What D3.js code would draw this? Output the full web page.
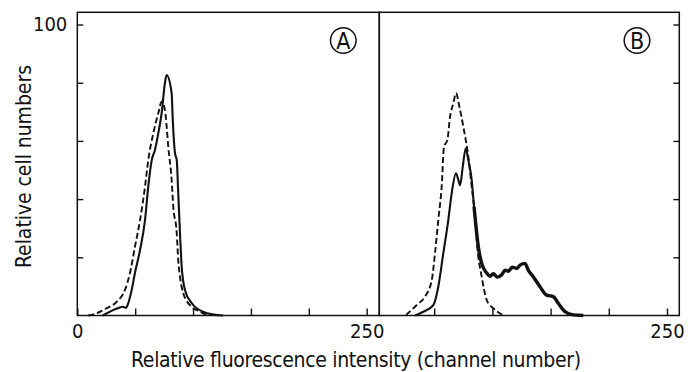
<!DOCTYPE html>
<html lang="en">
	<head>
		<meta charset="utf-8">
		<title>Fluorescence histograms</title>
		<script type="text/javascript" src="https://cdn.jsdelivr.net/npm/d3@7/dist/d3.min.js"></script>
		<style type="text/css">
			body { margin: 0; background: #fff; }
			text { font-family: "DejaVu Sans Condensed", "DejaVu Sans", sans-serif; font-stretch: condensed; fill: #111; }
		</style>
	</head>
	<body>
		<script type="text/javascript">

			//Width and height
			var w = 696;
			var h = 372;

			//Panel A, solid histogram
			var aSolidChannel = [22, 35, 39.7, 42, 44, 47, 49.8, 54.2, 58.5, 61.3, 64.3, 67.1, 70, 72.9, 75.7, 77.2, 81.5, 82.4, 84.4, 85.9, 87.2, 88.7, 90.2, 93, 98.8, 108.6, 118, 126];
			var aSolidValue   = [0, 2.5, 3.0, 2.6, 4.2, 8.8, 14.6, 22.5, 32.8, 44.3, 53.4, 56.9, 62.7, 69.6, 79.9, 82.6, 76.4, 67.9, 55.8, 53.4, 42.1, 28.4, 16.7, 8.8, 4.3, 1.3, 0.3, 0];

			//Panel A, dashed histogram
			var aDashChannel = [9.5, 16.8, 25.4, 34, 41.2, 45.5, 49.8, 54.2, 58.5, 61.3, 65.7, 70, 72.9, 75.7, 77.2, 78.6, 81.5, 82.9, 85.9, 87.2, 88.7, 91.6, 98.8, 106, 112];
			var aDashValue   = [0, 0.8, 2.5, 4.7, 8.8, 14.6, 23.6, 32.8, 44.3, 53.4, 62.7, 69.6, 73.5, 70.6, 64.9, 58.0, 46.6, 37.4, 28.4, 19.1, 13.3, 7.6, 3.0, 1.3, 0];

			//Panel B, solid histogram
			var bSolidChannel = [33.5, 40.6, 49.2, 53.5, 57.8, 62.1, 65, 68.7, 70.7, 72.2, 74.5, 77.1, 79.3, 82.2, 84.2, 85.9, 87.9, 90.8, 93, 95.1, 98, 100.8, 104, 108, 111, 113.7, 117, 120.9, 124, 128, 130.8, 135.1, 140.9, 146.6, 152.3, 156.6, 162.4, 169.5, 178];
			var bSolidValue   = [0, 1.3, 3.6, 9.9, 21.4, 32.8, 42.0, 48.9, 46.6, 44.8, 51.1, 57.5, 53.4, 46.6, 37.4, 30.5, 23.6, 17.9, 15.8, 14.6, 13.5, 14.4, 13.2, 14.0, 15.6, 15.2, 16.6, 16.2, 17.4, 17.9, 15.6, 13.3, 9.9, 7.0, 6.5, 4.2, 1.3, 0.2, 0];

			//Panel B, dashed histogram
			var bDashChannel = [25.8, 35, 42.1, 47.9, 50.7, 53.5, 56.4, 58.4, 61.3, 63.6, 66.4, 68.7, 71.6, 75, 79.3, 82.2, 85.1, 87, 90.8, 95.1, 100.8, 109.4];
			var bDashValue   = [0.2, 3.6, 6.5, 12.2, 21.5, 32.8, 44.3, 58.0, 60.3, 68.3, 72.9, 76.4, 71.8, 64.9, 54.6, 44.3, 34.0, 23.6, 13.3, 5.3, 2.5, 0];

			//Ticks
			var yTicks = [20, 40, 60, 80, 100];
			var xTicksA = [0, 50, 100, 150, 200, 250];
			var xTicksB = [50, 100, 150, 200, 250];
			var xLabels = [0, 250];

			var zip = function(xs, ys) {
				return xs.map(function(x, i) { return { ch: x, v: ys[i] }; });
			};

			var yScale = d3.scaleLinear()
							.domain([0, 104.2])
							.range([315.5, 12.3]);

			var xScaleA = d3.scaleLinear()
							.domain([0, 260.9])
							.range([77.3, 379.3]);

			var xScaleB = d3.scaleLinear()
							.domain([2.8, 260.6])
							.range([379.3, 679.3]);

			//Create SVG element
			var svg = d3.select("body")
						.append("svg")
						.attr("width", w)
						.attr("height", h);

			//Curves
			function drawCurve(xScale, data, width, dashed) {
				var line = d3.line()
							.x(function(d) { return xScale(d.ch); })
							.y(function(d) { return yScale(d.v); })
							.curve(d3.curveMonotoneX);
				svg.append("path")
				   .datum(data)
				   .attr("d", line)
				   .attr("fill", "none")
				   .attr("stroke", "#111")
				   .attr("stroke-width", width)
				   .attr("stroke-linejoin", "round")
				   .attr("stroke-dasharray", dashed ? "6,3" : null);
			}

			drawCurve(xScaleA, zip(aDashChannel, aDashValue), 1.9, true);
			drawCurve(xScaleA, zip(aSolidChannel, aSolidValue), 2.1, false);
			drawCurve(xScaleB, zip(bDashChannel, bDashValue), 1.9, true);
			var bSolid = zip(bSolidChannel, bSolidValue);
			drawCurve(xScaleB, bSolid, 2.1, false);
			//the plateau of curve B is drawn with a heavier pen
			drawCurve(xScaleB, bSolid.filter(function(d) { return d.ch >= 84; }), 3.4, false);

			//Axes
			var yAxisA = d3.axisLeft(yScale)
							.tickValues(yTicks)
							.tickSize(-6)
							.tickPadding(10)
							.tickFormat(function(d) { return d === 100 ? "100" : ""; });

			var yAxisB = d3.axisRight(yScale)
							.tickValues(yTicks)
							.tickSize(-6)
							.tickFormat("");

			var xAxisA = d3.axisBottom(xScaleA)
							.tickValues(xTicksA)
							.tickSize(-7)
							.tickPadding(8)
							.tickFormat(function(d) { return xLabels.indexOf(d) >= 0 ? d : ""; });

			var xAxisB = d3.axisBottom(xScaleB)
							.tickValues(xTicksB)
							.tickSize(-7)
							.tickPadding(8)
							.tickFormat(function(d) { return xLabels.indexOf(d) >= 0 ? d : ""; });

			var axes = [
				[yAxisA, "translate(77.3,0)"],
				[yAxisB, "translate(679.3,0)"],
				[xAxisA, "translate(0,315.5)"],
				[xAxisB, "translate(0,315.5)"]
			];
			axes.forEach(function(a) {
				var g = svg.append("g").attr("transform", a[1]).call(a[0]);
				g.select(".domain").remove();
				g.selectAll("line").attr("stroke", "#111").attr("stroke-width", 1.4);
				g.selectAll("text").attr("font-size", "20px").attr("font-family", null).attr("fill", "#111");
			});

			//Frame of both panels
			svg.selectAll("rect.frame")
			   .data([xScaleA, xScaleB])
			   .enter()
			   .append("rect")
			   .attr("class", "frame")
			   .attr("x", function(s) { return s.range()[0]; })
			   .attr("y", yScale.range()[1])
			   .attr("width", function(s) { return s.range()[1] - s.range()[0]; })
			   .attr("height", yScale.range()[0] - yScale.range()[1])
			   .attr("fill", "none")
			   .attr("stroke", "#111")
			   .attr("stroke-width", 1.5);

			//Circled panel letters
			var letters = svg.selectAll("g.letter")
							.data([{ t: "A", x: 343.3 }, { t: "B", x: 637 }])
							.enter()
							.append("g")
							.attr("class", "letter")
							.attr("transform", function(d) { return "translate(" + d.x + ",40.5)"; });
			letters.append("circle")
				   .attr("r", 12.8)
				   .attr("fill", "none")
				   .attr("stroke", "#111")
				   .attr("stroke-width", 1.5);
			letters.append("text")
				   .text(function(d) { return d.t; })
				   .attr("text-anchor", "middle")
				   .attr("y", 8.2)
				   .attr("font-size", "23px");

			//Axis titles
			svg.append("text")
			   .text("Relative fluorescence intensity (channel number)")
			   .attr("x", 131)
			   .attr("y", 367)
			   .attr("textLength", 450)
			   .attr("lengthAdjust", "spacing")
			   .attr("font-size", "21px");

			svg.append("text")
			   .text("Relative cell numbers")
			   .attr("transform", "translate(31,268) rotate(-90)")
			   .attr("textLength", 203)
			   .attr("lengthAdjust", "spacing")
			   .attr("font-size", "21px");

		</script>
	</body>
</html>
